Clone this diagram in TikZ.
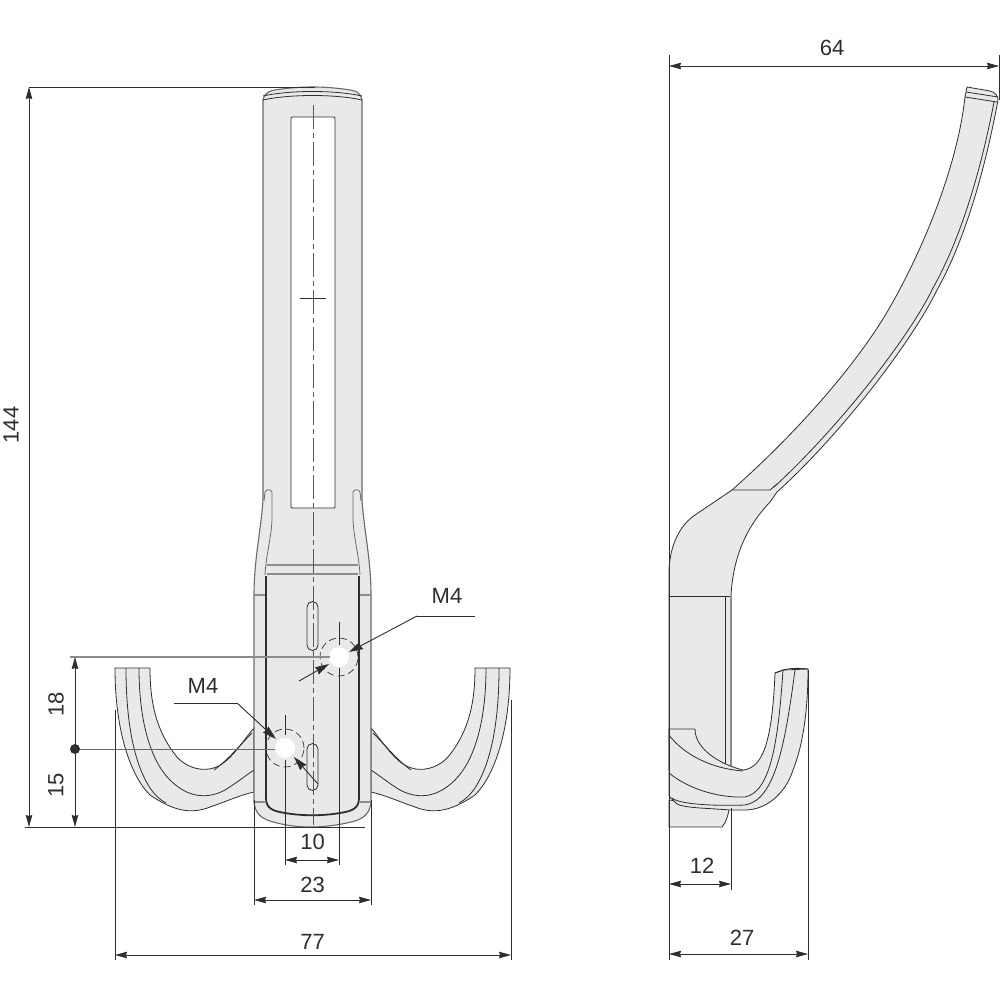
\documentclass[tikz,border=0pt]{standalone}
\usepackage{fontspec}
\setmainfont{Liberation Sans}
\usetikzlibrary{arrows.meta}
\definecolor{bodyfill}{HTML}{E8E9E9}
\definecolor{ink}{HTML}{2E2E2E}
\definecolor{softink}{HTML}{8C8C8C}
\definecolor{midink}{HTML}{6A6A6A}
\tikzset{
  part/.style={draw=ink,line width=.8pt,fill=bodyfill,line join=round},
  softpart/.style={draw=midink,line width=1.1pt,fill=bodyfill,line join=round},
  edge/.style={draw=ink,line width=.8pt},
  softedge/.style={draw=softink,line width=1.2pt},
  heavy/.style={draw=ink,line width=1.8pt},
  centreline/.style={draw=ink!80,line width=.9pt,dash pattern=on 24pt off 4pt on 5pt off 4pt},
  dashring/.style={draw=ink,line width=.7pt,dash pattern=on 7pt off 4pt},
  ext/.style={draw=ink,line width=.9pt},
  softext/.style={draw=softink,line width=1.1pt},
  dimtip/.tip={Stealth[length=12pt,width=6.5pt,inset=1pt]},
  dimline/.style={draw=ink,line width=.9pt,dimtip-dimtip},
  leader/.style={draw=ink,line width=.9pt,-{Stealth[length=14pt,width=8pt,inset=1pt]}},
  lab/.style={font=\fontsize{22}{22}\selectfont,text=ink,inner sep=0pt},
}
\newcommand{\hookleft}{%
  \path[part] (115,668) -- (150,668)
    .. controls (150,700) and (155,730) .. (177,757)
    .. controls (188,769) and (207,774) .. (222,764)
    .. controls (235,755) and (245,738) .. (254,728)
    -- (254,792)
    .. controls (240,795) and (225,802) .. (210,807)
    .. controls (190,815) and (172,810) .. (150,795)
    .. controls (130,775) and (115,730) .. (115,668) -- cycle;
  \draw[edge] (126,668) .. controls (126,715) and (132,760) .. (150,788)
     .. controls (155,795) and (160,800) .. (166,803);
  \draw[edge] (139,668) .. controls (139,720) and (150,760) .. (170,780)
     .. controls (190,800) and (210,798) .. (225,790)
     .. controls (235,784) and (245,776) .. (254,770);
  \draw[edge] (214,770) .. controls (228,760) and (240,745) .. (252,733);
}
\begin{document}
\begin{tikzpicture}[x=1pt,y=-1pt]
\useasboundingbox (0,0) rectangle (1000,1000);
\fill[white] (0,0) rectangle (1000,1000);

% ---------- front view ----------
\hookleft
\begin{scope}[xshift=625pt,xscale=-1]
\hookleft
\end{scope}
% stem plate
\path[softpart] (263,100) .. controls (265,92) and (270,91) .. (275,90)
  .. controls (300,86) and (325,86) .. (350,90)
  .. controls (356,91) and (360,92) .. (362,100)
  -- (362,500) .. controls (364,530) and (371,560) .. (371,595)
  -- (371,802) .. controls (370,812) and (365,818) .. (355,821)
  .. controls (325,829) and (295,829) .. (270,821)
  .. controls (260,818) and (255,812) .. (254,802)
  -- (254,595) .. controls (254,560) and (261,530) .. (263,500) -- cycle;
\draw[edge] (263,96) .. controls (290,90) and (335,90) .. (362,96);
\draw[edge] (263,100) .. controls (290,94) and (335,94) .. (362,100);
% window
\path[draw=ink,line width=.9pt,fill=white,rounded corners=1pt] (291,117) rectangle (335,508);
% slits and inner edges of the shoulder
\draw[edge,draw=midink] (264,501) -- (265,492) .. controls (266,489) and (271,489) .. (272,492)
  -- (272,520) .. controls (271,540) and (266,555) .. (265,575);
\draw[edge,draw=midink] (361,501) -- (360,492) .. controls (359,489) and (354,489) .. (353,492)
  -- (353,520) .. controls (354,540) and (359,555) .. (360,575);
\draw[softedge] (267,565) -- (358,565);
\draw[softedge] (267,574) -- (358,574);
\draw[softedge] (254,595) -- (266,595);
\draw[softedge] (358,595) -- (371,595);
\draw[softedge] (254,802) -- (265,802);
\draw[softedge] (360,802) -- (371,802);
% mounting recess
\draw[heavy] (266,576) -- (266,798) .. controls (266,808) and (272,811) .. (285,813)
  .. controls (303,816) and (322,816) .. (340,813)
  .. controls (353,811) and (359,808) .. (359,798) -- (359,576);
% lower slots
\draw[edge] (307,607) arc[start angle=180,end angle=360,x radius=5.5pt,y radius=-5.5pt] -- (318,645)
  arc[start angle=0,end angle=180,x radius=5.5pt,y radius=-5.5pt] -- cycle;
\draw[edge] (307,749) arc[start angle=180,end angle=360,x radius=5.5pt,y radius=-5.5pt] -- (318,785)
  arc[start angle=0,end angle=180,x radius=5.5pt,y radius=-5.5pt] -- cycle;
% centre line
\draw[centreline] (313,105) -- (313,825);
\draw[edge] (300,298) -- (326,298);
% holes
\coordinate (holeA) at (339,657);
\coordinate (holeB) at (285,748);
\draw[dashring] (holeA) circle[radius=19pt];
\draw[dashring] (holeB) circle[radius=19pt];
\fill[white] (holeA) circle[radius=10pt];
\fill[white] (holeB) circle[radius=10pt];

% ---------- side view ----------
\path[part] (967,87) -- (990,91) .. controls (995,92) and (998,96) .. (998,100)
  .. controls (985,170) and (965,240) .. (937,290)
  .. controls (910,345) and (838,437) .. (777,492)
  -- (770,502) .. controls (748,525) and (733,555) .. (731,596)
  -- (731,770) -- (669,770) -- (669,570)
  .. controls (670,545) and (680,525) .. (695,515)
  -- (732,490)
  .. controls (800,430) and (860,360) .. (890,307)
  .. controls (920,255) and (957,170) .. (965,97)
  -- cycle;
\draw[edge] (965,97) -- (997,102);
\draw[edge] (966,92) -- (998,97);
\draw[edge] (732,490) -- (770,490) -- (777,484);
\draw[edge] (994,102) .. controls (981,170) and (961,238) .. (933,288)
  .. controls (906,343) and (834,432) .. (774,487);
\draw[edge] (669,596) -- (731,596);
\draw[edge] (725,596) -- (725,766);
\draw[softedge] (731,596) -- (731,768);
% block under the hook
\path[part] (669,800) -- (730,806) .. controls (728,815) and (726,823) .. (722,827) -- (669,827) -- cycle;
% hook
\path[part] (669,729) -- (695,729)
  .. controls (695,750) and (722,765) .. (743,770)
  .. controls (762,768) and (772,745) .. (775,673)
  -- (783,670) -- (808,669)
  .. controls (808,710) and (803,745) .. (793,770)
  .. controls (785,795) and (765,810) .. (745,810)
  -- (730,810) .. controls (705,808) and (685,808) .. (677,804)
  -- (669,796) -- cycle;
\draw[edge] (669,735) .. controls (680,750) and (705,768) .. (743,771);
\draw[edge] (669,773) .. controls (690,790) and (720,798) .. (745,797)
  .. controls (770,792) and (778,745) .. (783,670);
\draw[edge] (672,798) .. controls (680,805) and (720,806) .. (745,805)
  .. controls (775,800) and (785,745) .. (795,670);
\draw[edge] (775,673) -- (783,670) .. controls (790,668) and (800,668) .. (808,669);

% ---------- dimensions, front view ----------
\coordinate (topL) at (29,87);
\coordinate (botL) at (29,827);
\coordinate (topR) at (315,87);
\coordinate (botR) at (365,827);
\coordinate (botStart) at (25,827);
\draw[ext] (topL) -- (topR);
\draw[ext] (botStart) -- (botR);
\draw[dimline] (topL) -- (botL);
\node[lab,rotate=90] (t144) at (11,425) {144};

\coordinate (d18a) at (75,657);
\coordinate (dDot) at (75,749);
\coordinate (d15b) at (75,827);
\draw[softext] (70,657) -- (330,657);
\draw[ext,draw=midink] (dDot) -- (275,749);
\draw[ext,-dimtip] (dDot) -- (d18a);
\draw[ext,-dimtip] (dDot) -- (d15b);
\fill[ink] (dDot) circle[radius=5pt];
\node[lab,rotate=90] (t18) at (56,704) {18};
\node[lab,rotate=90] (t15) at (56,785) {15};

\coordinate (e10a) at (285,860);
\coordinate (e10b) at (339,860);
\draw[ext] (285,715) -- (285,735);
\draw[ext] (285,760) -- (285,865);
\draw[ext] (339,622) -- (339,645);
\draw[ext] (339,668) -- (339,865);
\draw[dimline] (e10a) -- (e10b);
\node[lab] (t10) at (312.5,842) {10};

\coordinate (e23a) at (254,900);
\coordinate (e23b) at (371,900);
\draw[ext] (254,800) -- (254,905);
\draw[ext] (371,800) -- (371,905);
\draw[dimline] (e23a) -- (e23b);
\node[lab] (t23) at (312.5,885) {23};

\coordinate (e77a) at (115,955);
\coordinate (e77b) at (511,955);
\draw[ext] (115,710) -- (115,960);
\draw[ext] (511,700) -- (511,960);
\draw[dimline] (e77a) -- (e77b);
\node[lab] (t77) at (312.5,942) {77};

% M4 leaders
\node[lab] (m4a) at (447,596) {M4};
\coordinate (la1) at (475,616);
\coordinate (la2) at (417,616);
\coordinate (la3) at (299,681);
\draw[ext] (la1) -- (la2);
\draw[leader] (la2) -- (349,652);
\draw[leader] (la3) -- (329,664);
\node[lab] (m4b) at (203,686) {M4};
\coordinate (lb1) at (174,703);
\coordinate (lb2) at (237,703);
\coordinate (lb3) at (318,784);
\draw[ext] (lb1) -- (lb2);
\draw[leader] (lb2) -- (276,739);
\draw[leader] (lb3) -- (294,757);

% ---------- dimensions, side view ----------
\coordinate (s64a) at (669,66);
\coordinate (s64b) at (999,66);
\draw[ext] (669,55) -- (669,960);
\draw[ext] (999,55) -- (999,100);
\draw[dimline] (s64a) -- (s64b);
\node[lab] (t64) at (832,48) {64};

\coordinate (s12a) at (669,884);
\coordinate (s12b) at (731,884);
\draw[ext] (731,808) -- (731,890);
\draw[dimline] (s12a) -- (s12b);
\node[lab] (t12) at (702,866) {12};

\coordinate (s27a) at (669,954);
\coordinate (s27b) at (808,954);
\draw[ext] (808,670) -- (808,960);
\draw[dimline] (s27a) -- (s27b);
\node[lab] (t27) at (742,938) {27};
\end{tikzpicture}
\end{document}
